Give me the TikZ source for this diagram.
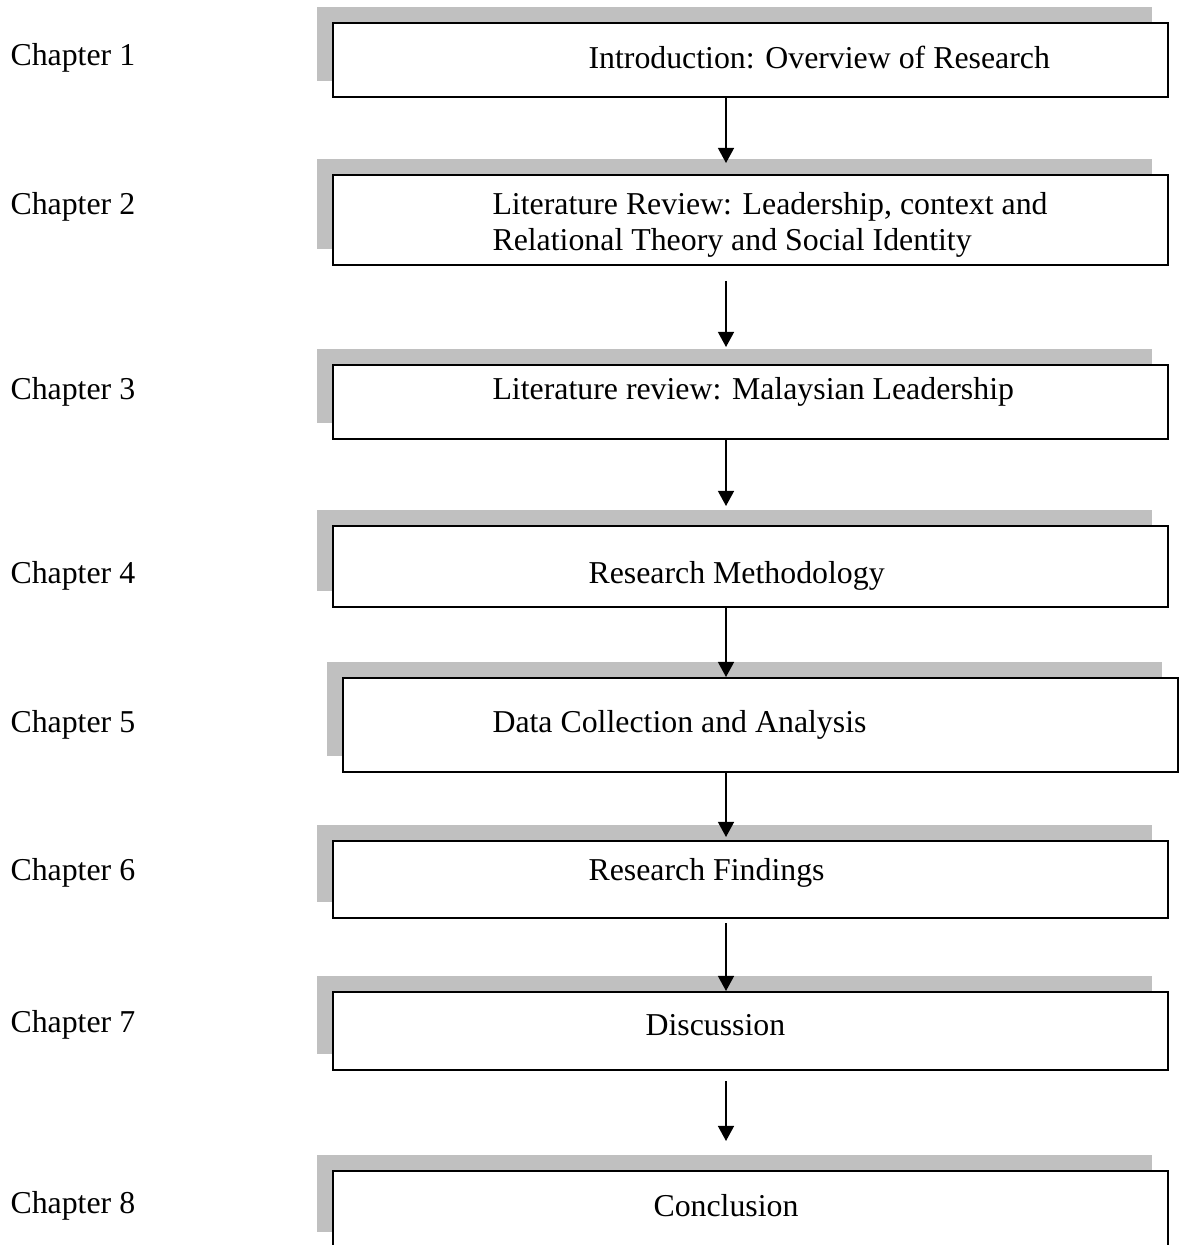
\documentclass[tikz,border=0pt]{standalone}
\usepackage{fontspec}
\setmainfont{Liberation Serif}
\usetikzlibrary{arrows.meta,shadows}

\definecolor{shadowgray}{RGB}{192,192,192}
\def\px{0.377pt}

\begin{document}
\begin{tikzpicture}[
    x=\px, y=-\px,
    every node/.style={font=\fontsize{12}{13.6}\selectfont,text=black},
    chapbox/.style={draw=black, fill=white, line width=0.75pt, inner sep=0pt,
      minimum width=835*\px,
      general shadow={fill=shadowgray, shadow xshift=-6pt, shadow yshift=6pt}},
    boxtext/.style={anchor=west, align=left, inner sep=0pt},
    chaplabel/.style={anchor=west, inner sep=0pt},
    flow/.style={draw=black, line width=0.75pt, -{Triangle[width=6pt,length=5.7pt]}}
  ]
  \useasboundingbox (0,0) rectangle (1183,1245);

  %--------------------------------------
  % 1) chapter boxes (shadow up-left)
  %--------------------------------------
  \node[chapbox, minimum height=74*\px] (b1) at (750.5,60)   {};
  \node[chapbox, minimum height=90*\px] (b2) at (750.5,220)  {};
  \node[chapbox, minimum height=74*\px] (b3) at (750.5,402)  {};
  \node[chapbox, minimum height=81*\px] (b4) at (750.5,566.5) {};
  \node[chapbox, minimum height=94*\px] (b5) at (760.5,725)  {};
  \node[chapbox, minimum height=77*\px] (b6) at (750.5,879.5) {};
  \node[chapbox, minimum height=78*\px] (b7) at (750.5,1031) {};
  \node[chapbox, minimum height=77*\px] (b8) at (750.5,1209.5) {};

  % box texts
  \node[boxtext] (t1) at (588,58)   {Introduction: Overview of Research};
  \node[boxtext] (t2) at (492,225)  {Literature Review: Leadership, context and\\Relational Theory and Social Identity};
  \node[boxtext] (t3) at (492,392)  {Literature review: Malaysian Leadership};
  \node[boxtext] (t4) at (588,576)  {Research Methodology};
  \node[boxtext] (t5) at (492,725)  {Data Collection and Analysis};
  \node[boxtext] (t6) at (588,873)  {Research Findings};
  \node[boxtext] (t7) at (645,1025) {Discussion};
  \node[boxtext] (t8) at (653,1206) {Conclusion};

  %--------------------------------------
  % 2) chapter labels on the left
  %--------------------------------------
  \node[chaplabel] (c1) at (10,58)   {Chapter 1};
  \node[chaplabel] (c2) at (10,207)  {Chapter 2};
  \node[chaplabel] (c3) at (10,392)  {Chapter 3};
  \node[chaplabel] (c4) at (10,576)  {Chapter 4};
  \node[chaplabel] (c5) at (10,725)  {Chapter 5};
  \node[chaplabel] (c6) at (10,873)  {Chapter 6};
  \node[chaplabel] (c7) at (10,1025) {Chapter 7};
  \node[chaplabel] (c8) at (10,1206) {Chapter 8};

  %--------------------------------------
  % 3) arrows down the middle (x=726)
  %--------------------------------------
  \coordinate (ax) at (726,0);
  \draw[flow, shorten >=11*\px] (b1.south -| ax) -- (b2.north -| ax);
  \draw[flow, shorten <=15*\px, shorten >=17*\px] (b2.south -| ax) -- (b3.north -| ax);
  \draw[flow, shorten >=19*\px] (b3.south -| ax) -- (b4.north -| ax);
  \draw[flow] (b4.south -| ax) -- (b5.north -| ax);
  \draw[flow, shorten >=3*\px] (b5.south -| ax) -- (b6.north -| ax);
  \draw[flow, shorten <=4*\px] (b6.south -| ax) -- (b7.north -| ax);
  \draw[flow, shorten <=10*\px, shorten >=29*\px] (b7.south -| ax) -- (b8.north -| ax);

\end{tikzpicture}
\end{document}
